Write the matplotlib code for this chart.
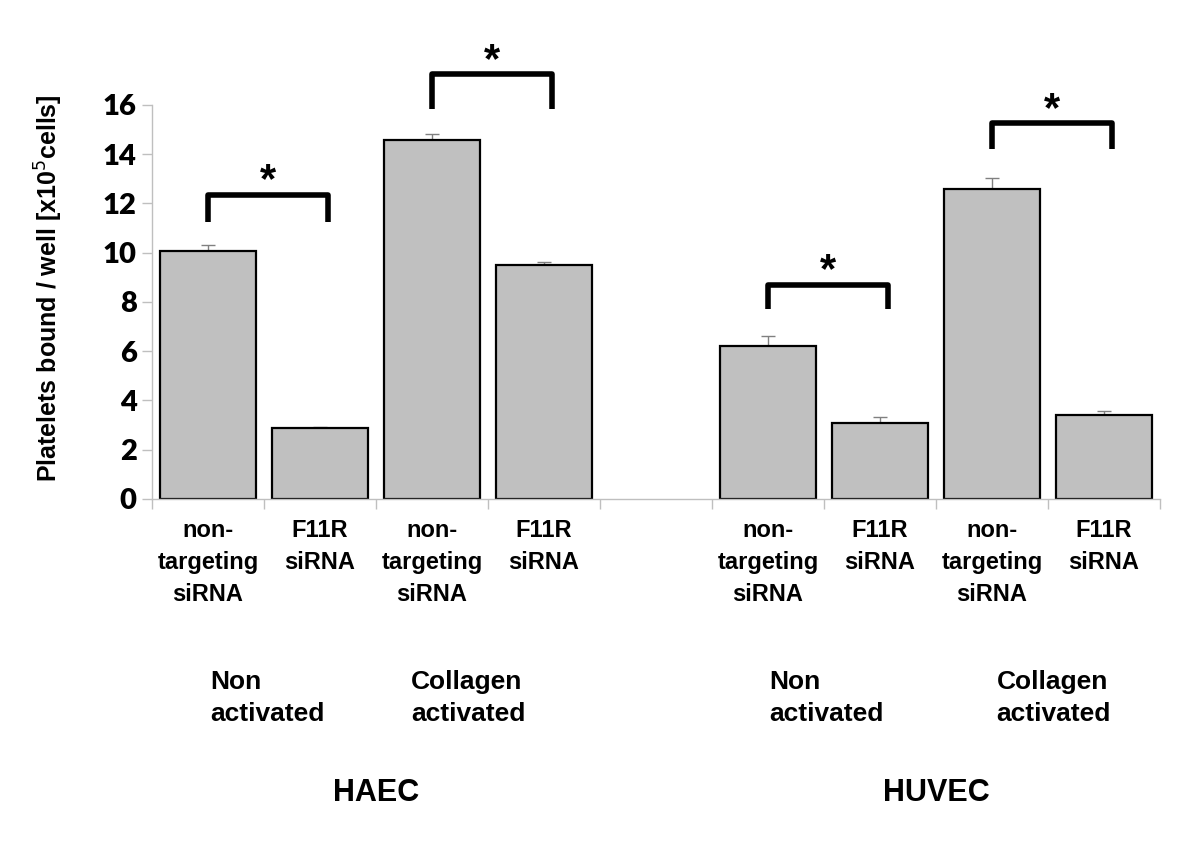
import matplotlib
matplotlib.use('Agg')

import matplotlib.pyplot as plt
import matplotlib.transforms as mtransforms

# Data
bar_labels = ['non-\ntargeting\nsiRNA', 'F11R\nsiRNA', 'non-\ntargeting\nsiRNA', 'F11R\nsiRNA',
              'non-\ntargeting\nsiRNA', 'F11R\nsiRNA', 'non-\ntargeting\nsiRNA', 'F11R\nsiRNA']
values = [10.08, 2.88, 14.58, 9.5, 6.21, 3.09, 12.59, 3.41]
errors = [0.24, 0.05, 0.25, 0.12, 0.4, 0.24, 0.45, 0.16]
slots = [0, 1, 2, 3, 5, 6, 7, 8]  # slot 4 is left empty between the cell types
condition_labels = ['Non\nactivated', 'Collagen\nactivated', 'Non\nactivated', 'Collagen\nactivated']
condition_x = [0.02, 1.81, 5.01, 7.04]
cell_types = ['HAEC', 'HUVEC']
yticks = [0, 2, 4, 6, 8, 10, 12, 14, 16]

# significance brackets: (left bar index, right bar index, top, bottom)
brackets = [(0, 1, 12.35, 11.25), (2, 3, 17.25, 15.85), (4, 5, 8.7, 7.7), (6, 7, 15.25, 14.2)]

axis_gray = '#bfbfbf'
tick_font = 'Lato'
text_font = 'Liberation Sans'

fig = plt.figure(figsize=(12, 8.6), dpi=100)
ax = fig.add_axes([0.1267, 0.4198, 0.84, 0.4582])

ax.bar(slots, values, width=0.86, color='#c0c0c0', edgecolor='black', linewidth=1.6, zorder=2)
ax.errorbar(slots, values, yerr=[[0] * len(errors), errors], fmt='none', ecolor='#808080',
            elinewidth=1, capsize=5, capthick=1, zorder=1)

ax.set_xlim(-0.5, 8.5)
ax.set_ylim(0, 16)
ax.set_yticks(yticks)
ax.set_yticklabels([str(t) for t in yticks], fontfamily=tick_font, fontweight='heavy', fontsize=21)
ax.tick_params(axis='y', length=7, color=axis_gray, width=1, pad=4)

ax.set_xticks([s - 0.5 for s in range(10)])
ax.set_xticklabels([])
ax.tick_params(axis='x', length=7, color=axis_gray, width=1)

for side in ['top', 'right']:
    ax.spines[side].set_visible(False)
for side in ['left', 'bottom']:
    ax.spines[side].set_color(axis_gray)
    ax.spines[side].set_linewidth(1)

ax.set_ylabel('Platelets bound / well [x10$^{5}$cells]', fontfamily=text_font,
              fontweight='bold', fontsize=18)
ax.yaxis.set_label_coords(-0.086, 0.535)

trans = mtransforms.blended_transform_factory(ax.transData, ax.transAxes)

# bar category labels under each bar
for s, lab in zip(slots, bar_labels):
    ax.text(s, -0.052, lab, transform=trans, ha='center', va='top', fontfamily=text_font,
            fontweight='bold', fontsize=17, linespacing=1.5)

# treatment labels
for x, lab in zip(condition_x, condition_labels):
    ax.text(x, -0.435, lab, transform=trans, ha='left', va='top',
            fontfamily=text_font, fontweight='bold', fontsize=19, linespacing=1.38)

# cell type labels
for i, lab in enumerate(cell_types):
    x_mid = (slots[4 * i] + slots[4 * i + 3]) / 2
    ax.text(x_mid, -0.745, lab, transform=trans, ha='center', va='center',
            fontfamily=text_font, fontweight='bold', fontsize=22)

# significance brackets and stars
for left, right, top, bottom in brackets:
    x1 = slots[left]
    x2 = slots[right] + 0.07
    ax.plot([x1, x1, x2, x2], [bottom, top, top, bottom], color='black', lw=4,
            solid_joinstyle='round', solid_capstyle='butt', clip_on=False, zorder=3)
    ax.text((x1 + x2) / 2, top + 0.55, '*', ha='center', va='center', fontfamily=text_font,
            fontweight='bold', fontsize=30, clip_on=False)

fig.savefig('out.png', dpi=100)
